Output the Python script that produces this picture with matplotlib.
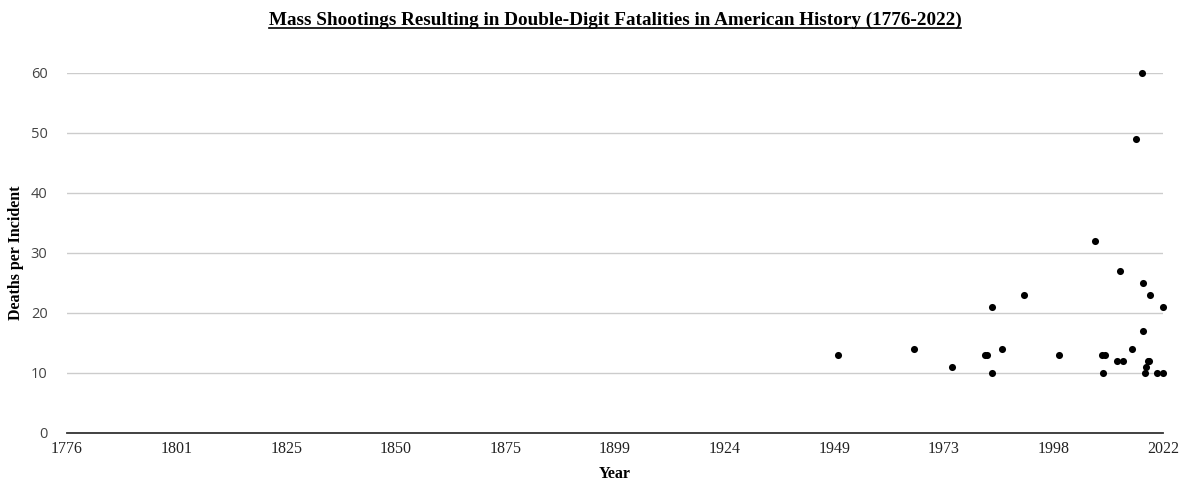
import matplotlib
matplotlib.use("Agg")
import matplotlib.pyplot as plt
from matplotlib.lines import Line2D

# Year (fractional) and deaths per incident
years = [1949.1, 1966.0, 1974.6, 1982.1, 1982.6, 1983.6, 1983.6, 1985.9,
         1990.8, 1998.6, 2006.7, 2008.4, 2008.6, 2008.9, 2011.7, 2012.4,
         2013.0, 2015.0, 2015.9, 2017.2, 2017.4, 2017.6, 2017.9, 2018.1,
         2018.6, 2018.9, 2019.0, 2020.7, 2021.9, 2021.9]
deaths = [13, 14, 11, 13, 13, 21, 10, 14,
          23, 13, 32, 13, 10, 13, 12, 27,
          12, 14, 49, 60, 25, 17, 10, 11,
          12, 12, 23, 10, 21, 10]

x_start, x_end = 1776, 2022
x_tick_labels = ["1776", "1801", "1825", "1850", "1875", "1899",
                 "1924", "1949", "1973", "1998", "2022"]
y_ticks = [0, 10, 20, 30, 40, 50, 60]

serif = ["Liberation Serif", "DejaVu Serif"]
sans = ["Open Sans", "DejaVu Sans"]

fig = plt.figure(figsize=(11.8, 4.8), dpi=100)
ax = fig.add_axes([67 / 1180, 1 - 433 / 480, (1163 - 67) / 1180, 360 / 480])

ax.scatter(years, deaths, s=26, color="black", zorder=3, clip_on=False, linewidths=0)

ax.set_xlim(x_start, x_end)
ax.set_ylim(0, 60)
step = (x_end - x_start) / (len(x_tick_labels) - 1)
ax.set_xticks([x_start + i * step for i in range(len(x_tick_labels))])
ax.set_xticklabels(x_tick_labels, fontfamily=serif, fontsize=11.5, color="#222222")
ax.set_yticks(y_ticks)
ax.set_yticklabels([str(v) for v in y_ticks], fontfamily=sans, fontsize=10.5, color="#444444")
ax.tick_params(axis="both", length=0)
ax.tick_params(axis="x", pad=6)
ax.tick_params(axis="y", pad=14)

ax.yaxis.grid(True, color="#cccccc", linewidth=1)
ax.set_axisbelow(True)
for side in ["top", "right", "left"]:
    ax.spines[side].set_visible(False)
ax.spines["bottom"].set_color("#333333")
ax.spines["bottom"].set_linewidth(1.3)
ax.spines["bottom"].set_zorder(4)

ax.set_xlabel("Year", fontfamily=serif, fontweight="bold", fontsize=11.5, labelpad=6)
ax.set_ylabel("Deaths per Incident", fontfamily=serif, fontweight="bold", fontsize=11.5, labelpad=5)

title = fig.text(615 / 1180, 1 - 20 / 480, "Mass Shootings Resulting in Double-Digit Fatalities in American History (1776-2022)",
                 ha="center", va="center", fontfamily=serif, fontweight="bold", fontsize=13.8)

# underline the title
fig.canvas.draw()
bb = title.get_window_extent().transformed(fig.transFigure.inverted())
y_line = bb.y0 + 0.002
fig.add_artist(Line2D([bb.x0, bb.x1], [y_line, y_line], color="black", linewidth=1.2,
                      transform=fig.transFigure))

fig.savefig("out.png", dpi=100)
